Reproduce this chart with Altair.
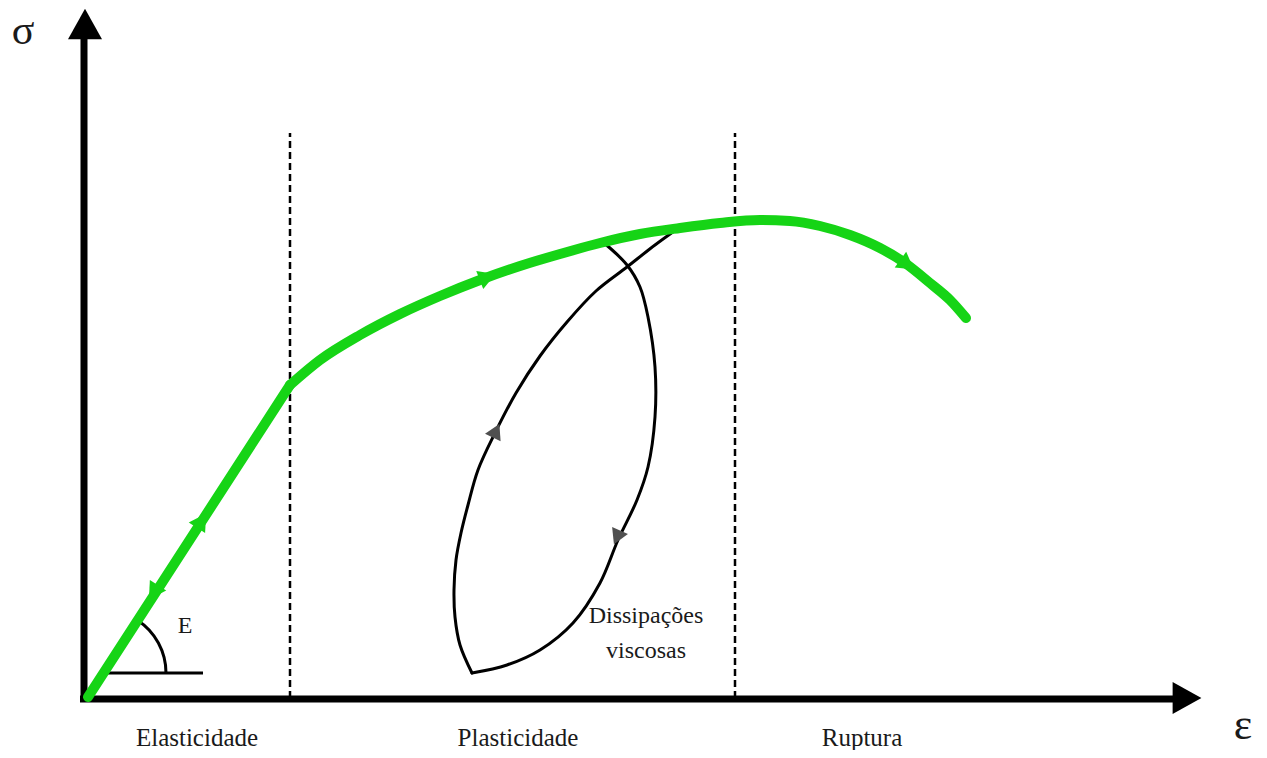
import altair as alt
import pandas as pd

# ---- data (strain ε, stress σ in drawing units; origin at the axes' corner) ----
elastic_eps = [4, 206]
elastic_sig = [2, 314]
plastic_eps = [206, 236, 276, 316, 356, 396, 436, 476, 516, 556, 596, 636, 676, 706, 736, 766, 796, 821, 846, 866, 882]
plastic_sig = [314, 339, 364, 385, 403, 419, 433, 445, 456, 465, 471, 476, 479, 478, 473, 464, 451, 436, 416, 399, 381]

load_eps = [388, 376, 371, 370, 372, 377, 384, 394, 411, 432, 456, 483, 512, 543, 571, 596]
load_sig = [26, 54, 82, 109, 139, 166, 194, 229, 266, 306, 343, 377, 408, 432, 454, 472]
unload_eps = [519, 543, 556, 564, 571, 571, 564, 553, 534, 516, 489, 456, 423, 388]
unload_sig = [457, 434, 412, 382, 332, 282, 232, 199, 159, 116, 76, 49, 34, 26]

green_arrow_eps = [116, 71, 401, 821]
green_arrow_sig = [176, 109, 421, 436]
green_arrow_ang = [33, 213, 69, 126]

loop_arrow_eps = [411, 534]
loop_arrow_sig = [266, 164]
loop_arrow_ang = [26, 204]

region_bounds = [206, 651]
region_top = 566

region_labels = ["Elasticidade", "Plasticidade", "Ruptura"]
region_label_eps = [113, 434, 778]

GREEN = "#16d416"
FONT = "Liberation Serif"

xs = alt.Scale(domain=[-76, 1175], nice=False, zero=False)
ys = alt.Scale(domain=[-51, 691], nice=False, zero=False)


def X(f):
    return alt.X(f"{f}:Q", scale=xs, axis=None)


def Y(f):
    return alt.Y(f"{f}:Q", scale=ys, axis=None)


# dashed region boundaries
dash_df = pd.DataFrame({"x": region_bounds, "y0": [1] * 2, "y1": [region_top] * 2})
dashed = alt.Chart(dash_df).mark_rule(color="black", strokeWidth=2.5, strokeDash=[7, 4]).encode(
    x=X("x"), y=Y("y0"), y2="y1")

# axes
axes_df = pd.DataFrame({"x0": [0, -4], "x1": [0, 1090], "y0": [-1, 0], "y1": [660, 0]})
axes = alt.Chart(axes_df).mark_rule(color="black", strokeWidth=7).encode(
    x=X("x0"), x2="x1", y=Y("y0"), y2="y1")

up_df = pd.DataFrame({"x": [1], "y": [675]})
arrow_up = alt.Chart(up_df).mark_point(
    shape="M0,-0.9L1,0.9L-1,0.9Z", filled=True, size=1156, color="black", opacity=1
).encode(x=X("x"), y=Y("y"))
right_df = pd.DataFrame({"x": [1103], "y": [1]})
arrow_right = alt.Chart(right_df).mark_point(
    shape="M0.9,0L-0.9,-1L-0.9,1Z", filled=True, size=1024, color="black", opacity=1
).encode(x=X("x"), y=Y("y"))

# modulus angle E
eline_df = pd.DataFrame({"x0": [19], "x1": [119], "y0": [26]})
eline = alt.Chart(eline_df).mark_rule(color="black", strokeWidth=3).encode(
    x=X("x0"), x2="x1", y=Y("y0"))
arc_df = pd.DataFrame({"x": [19], "y": [26]})
earc = alt.Chart(arc_df).mark_arc(
    theta=0.58, theta2=1.5708, radius=64.5, radius2=61.5, color="black"
).encode(x=X("x"), y=Y("y"))

# hysteresis loop
loop_df = pd.DataFrame({
    "x": load_eps + unload_eps,
    "y": load_sig + unload_sig,
    "branch": ["load"] * len(load_eps) + ["unload"] * len(unload_eps),
    "i": list(range(len(load_eps))) + list(range(len(unload_eps))),
})
loop = alt.Chart(loop_df).mark_line(
    color="black", strokeWidth=3, interpolate="catmull-rom", strokeCap="round"
).encode(x=X("x"), y=Y("y"), detail="branch:N", order=alt.Order("i:Q"))

loop_arrow_df = pd.DataFrame({"x": loop_arrow_eps, "y": loop_arrow_sig, "a": loop_arrow_ang})
loop_arrows = alt.Chart(loop_arrow_df).mark_point(
    shape="triangle", filled=True, size=300, color="#505050", opacity=1
).encode(x=X("x"), y=Y("y"), angle=alt.Angle("a:Q", scale=None))

# stress-strain curve: straight elastic part, smooth plastic/rupture part
el_df = pd.DataFrame({"x": elastic_eps, "y": elastic_sig, "i": range(len(elastic_eps))})
elastic = alt.Chart(el_df).mark_line(
    color=GREEN, strokeWidth=10, strokeCap="round", strokeJoin="round"
).encode(x=X("x"), y=Y("y"), order=alt.Order("i:Q"))
pl_df = pd.DataFrame({"x": plastic_eps, "y": plastic_sig, "i": range(len(plastic_eps))})
plastic = alt.Chart(pl_df).mark_line(
    color=GREEN, strokeWidth=10, interpolate="monotone", strokeCap="round", strokeJoin="round"
).encode(x=X("x"), y=Y("y"), order=alt.Order("i:Q"))

garrow_df = pd.DataFrame({"x": green_arrow_eps, "y": green_arrow_sig, "a": green_arrow_ang})
garrows = alt.Chart(garrow_df).mark_point(
    shape="triangle", filled=True, size=380, color=GREEN, opacity=1
).encode(x=X("x"), y=Y("y"), angle=alt.Angle("a:Q", scale=None))

# texts
text_df = pd.DataFrame({
    "t": region_labels + ["Dissipações", "viscosas", "E", "σ", "ε"],
    "x": region_label_eps + [562, 562, 101, -61, 1159],
    "y": [-47, -47, -47, 76, 41, 66, 655, -40],
    "fs": [25, 25, 25, 24, 24, 24, 42, 44],
})
texts = alt.Chart(text_df).mark_text(
    font=FONT, align="center", baseline="alphabetic", color="#1a1a1a"
).encode(x=X("x"), y=Y("y"), text="t:N", size=alt.Size("fs:Q", scale=None))

chart = alt.layer(
    dashed, axes, arrow_up, arrow_right, eline, earc, loop, loop_arrows,
    elastic, plastic, garrows, texts
).properties(
    width=1251, height=742, padding=0,
    autosize=alt.AutoSizeParams(type="none"),
    background="white",
).configure_view(stroke=None)

chart.save("out.html", embed_options={"renderer": "svg", "actions": False})
